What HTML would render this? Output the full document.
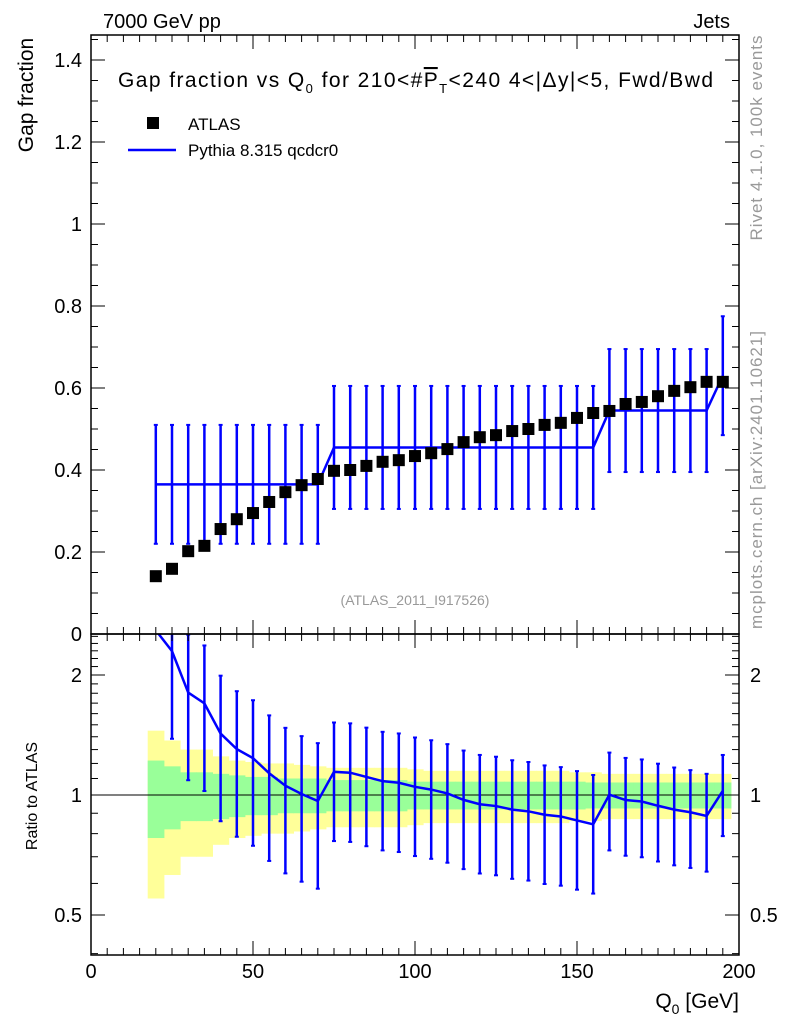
<!DOCTYPE html>
<html><head><meta charset="utf-8"><style>
body{margin:0;background:#fff}
svg{display:block;font-family:"Liberation Sans",sans-serif}
</style></head><body>
<svg id="c" width="786" height="1024" viewBox="0 0 786 1024"></svg>
<script>
const xs=[20,25,30,35,40,45,50,55,60,65,70,75,80,85,90,95,100,105,110,115,120,125,130,135,140,145,150,155,160,165,170,175,180,185,190,195];
const dataVals=[0.141,0.159,0.202,0.215,0.256,0.28,0.295,0.322,0.346,0.363,0.378,0.398,0.4,0.41,0.42,0.424,0.434,0.441,0.451,0.468,0.48,0.485,0.495,0.5,0.51,0.515,0.527,0.539,0.544,0.561,0.566,0.58,0.593,0.602,0.615,0.615];
const statRel=[0.22,0.18,0.14,0.14,0.13,0.12,0.11,0.11,0.1,0.1,0.1,0.09,0.09,0.09,0.09,0.09,0.08,0.08,0.08,0.08,0.08,0.08,0.08,0.08,0.08,0.08,0.08,0.075,0.075,0.075,0.075,0.075,0.075,0.075,0.075,0.075];
const totRel=[0.45,0.37,0.3,0.3,0.25,0.22,0.21,0.2,0.2,0.19,0.18,0.17,0.17,0.17,0.17,0.17,0.16,0.15,0.15,0.15,0.15,0.15,0.15,0.15,0.15,0.15,0.14,0.14,0.13,0.13,0.13,0.13,0.13,0.13,0.13,0.13];
const mcVals=[0.365,0.365,0.365,0.365,0.365,0.365,0.365,0.365,0.365,0.365,0.365,0.455,0.455,0.455,0.455,0.455,0.455,0.455,0.455,0.455,0.455,0.455,0.455,0.455,0.455,0.455,0.455,0.455,0.545,0.545,0.545,0.545,0.545,0.545,0.545,0.63];
const mcErr=[0.145,0.145,0.145,0.145,0.145,0.145,0.145,0.145,0.145,0.145,0.145,0.15,0.15,0.15,0.15,0.15,0.15,0.15,0.15,0.15,0.15,0.15,0.15,0.15,0.15,0.15,0.15,0.15,0.15,0.15,0.15,0.15,0.15,0.15,0.15,0.145];
const yTicks=[0,0.2,0.4,0.6,0.8,1,1.2,1.4];
const xTicks=[0,50,100,150,200];
const rTicks=[0.5,1,2];

const S=document.getElementById('c');const NS='http://www.w3.org/2000/svg';
function mk(t,a,p,txt){const e=document.createElementNS(NS,t);for(const k in a)e.setAttribute(k,a[k]);if(txt!==undefined)e.textContent=txt;(p||S).appendChild(e);return e;}
const L=91,R=739,T=35,B=634,RB=955;
const X=v=>L+(v/200)*(R-L);
const Y=v=>B-v*410;
const YR=v=>795-120*Math.log2(v);
const clipR=v=>Math.max(B,Math.min(RB,v));
const clipM=v=>Math.max(T,Math.min(B,v));

const gY=mk('g',{});
const gG=mk('g',{});
xs.forEach((x,i)=>{
 const x0=X(x-2.5),x1=X(x+2.5);
 let a=YR(1+totRel[i]),b=YR(Math.max(0.05,1-totRel[i]));
 mk('rect',{x:x0,y:a,width:x1-x0+0.5,height:b-a,fill:'#ffff99'},gY);
 a=YR(1+statRel[i]);b=YR(1-statRel[i]);
 mk('rect',{x:x0,y:a,width:x1-x0+0.5,height:b-a,fill:'#99ff99'},gG);
});
mk('line',{x1:L,x2:R,y1:YR(1),y2:YR(1),stroke:'#000','stroke-width':1});

const gr=mk('g',{});
let pts=[];
xs.forEach((x,i)=>{
 const r=mcVals[i]/dataVals[i];
 const hi=(mcVals[i]+mcErr[i])/dataVals[i],lo=(mcVals[i]-mcErr[i])/dataVals[i];
 const px=X(x);const y1=clipR(YR(hi)),y2=clipR(YR(lo));
 if(YR(r)>B){
 mk('line',{x1:px,x2:px,y1:y1,y2:y2,stroke:'#0000ff','stroke-width':2.5},gr);
 if(YR(hi)>B)mk('line',{x1:px-2,x2:px+2,y1:y1,y2:y1,stroke:'#0000ff','stroke-width':2},gr);
 mk('line',{x1:px-2,x2:px+2,y1:y2,y2:y2,stroke:'#0000ff','stroke-width':2},gr);}
 pts.push([px,YR(r)]);
});
const cp=mk('clipPath',{id:'rc'});mk('rect',{x:L,y:B,width:R-L,height:RB-B},cp);
mk('polyline',{points:pts.map(p=>p.join(',')).join(' '),fill:'none',stroke:'#0000ff','stroke-width':2.5,'clip-path':'url(#rc)'},gr);

const gm=mk('g',{});
pts=[];
xs.forEach((x,i)=>{
 const px=X(x);
 const y1=clipM(Y(mcVals[i]+mcErr[i])),y2=clipM(Y(mcVals[i]-mcErr[i]));
 mk('line',{x1:px,x2:px,y1:y1,y2:y2,stroke:'#0000ff','stroke-width':2.5},gm);
 mk('line',{x1:px-2,x2:px+2,y1:y1,y2:y1,stroke:'#0000ff','stroke-width':2},gm);
 mk('line',{x1:px-2,x2:px+2,y1:y2,y2:y2,stroke:'#0000ff','stroke-width':2},gm);
 pts.push([px,Y(mcVals[i])]);
});
mk('polyline',{points:pts.map(p=>p.join(',')).join(' '),fill:'none',stroke:'#0000ff','stroke-width':2.5},gm);

const gd=mk('g',{});
xs.forEach((x,i)=>{mk('rect',{x:X(x)-6,y:Y(dataVals[i])-6,width:12,height:12,fill:'#000'},gd);});

mk('rect',{x:L,y:T,width:R-L,height:B-T,fill:'none',stroke:'#000','stroke-width':1.5});
mk('rect',{x:L,y:B,width:R-L,height:RB-B,fill:'none',stroke:'#000','stroke-width':1.5});

const gt=mk('g',{stroke:'#000','stroke-width':1});
for(let v=0;v<=200;v+=5){const px=X(v);const len=v%50===0?14:7;
 mk('line',{x1:px,x2:px,y1:B,y2:B-len},gt);mk('line',{x1:px,x2:px,y1:T,y2:T+len},gt);
 mk('line',{x1:px,x2:px,y1:RB,y2:RB-len},gt);mk('line',{x1:px,x2:px,y1:B,y2:B+len},gt);}
for(let k=0;k<=29;k++){const v=k*0.05;const py=Y(v);if(py<T)continue;const len=k%4===0?14:7;
 mk('line',{x1:L,x2:L+len,y1:py,y2:py},gt);mk('line',{x1:R,x2:R-len,y1:py,y2:py},gt);}
[0.4,0.5,0.6,0.7,0.8,0.9,1,1.1,1.2,1.3,1.4,1.5,1.6,1.7,1.8,1.9,2,2.1,2.2,2.3,2.4,2.5].forEach(v=>{const py=YR(v);if(py<B||py>RB)return;const len=(v===0.5||v===1||v===2)?14:7;
 mk('line',{x1:L,x2:L+len,y1:py,y2:py},gt);mk('line',{x1:R,x2:R-len,y1:py,y2:py},gt);});

yTicks.forEach(v=>{const t=mk('text',{x:82,y:Y(v)+7,'text-anchor':'end','font-size':20},S,String(v));});
rTicks.forEach(v=>{const t=mk('text',{x:82,y:YR(v)+7,'text-anchor':'end','font-size':20},S,String(v));
 const t2=mk('text',{x:750,y:YR(v)+7,'font-size':20},S,String(v));});
xTicks.forEach(v=>{const t=mk('text',{x:X(v),y:978,'text-anchor':'middle','font-size':20},S,String(v));});
</script>
<svg width="786" height="1024" style="position:absolute;left:0;top:0">
<g font-family="Liberation Sans, sans-serif">
<text x="103" y="28" font-size="20">7000 GeV pp</text>
<text x="730" y="28" font-size="20" text-anchor="end">Jets</text>
<text x="118" y="87" font-size="21" textLength="595" lengthAdjust="spacing">Gap fraction vs Q<tspan font-size="13" dy="6">0</tspan><tspan dy="-6"> for 210&lt;#</tspan><tspan text-decoration="overline">P</tspan><tspan font-size="13" dy="6">T</tspan><tspan dy="-6">&lt;240  4&lt;|Δy|&lt;5, Fwd/Bwd</tspan></text>
<rect x="147" y="117" width="12" height="12" fill="#000"/>
<text x="188" y="130" font-size="17">ATLAS</text>
<line x1="128" x2="176" y1="150" y2="150" stroke="#0000ff" stroke-width="2.5"/>
<text x="188" y="156" font-size="17">Pythia 8.315 qcdcr0</text>
<text x="415" y="605" font-size="14" fill="#999" text-anchor="middle">(ATLAS_2011_I917526)</text>
<text transform="translate(33,95) rotate(-90)" font-size="21" text-anchor="middle">Gap fraction</text>
<text transform="translate(37,796) rotate(-90)" font-size="16" text-anchor="middle">Ratio to ATLAS</text>
<text x="739" y="1008" font-size="21" text-anchor="end">Q<tspan font-size="14" dy="6">0</tspan><tspan dy="-6"> [GeV]</tspan></text>
<text transform="translate(762,138) rotate(-90)" font-size="17" fill="#999" text-anchor="middle" textLength="205">Rivet 4.1.0,  100k events</text>
<text transform="translate(762,480) rotate(-90)" font-size="17" fill="#999" text-anchor="middle" textLength="298">mcplots.cern.ch [arXiv:2401.10621]</text>
</g></svg>
</body></html>
